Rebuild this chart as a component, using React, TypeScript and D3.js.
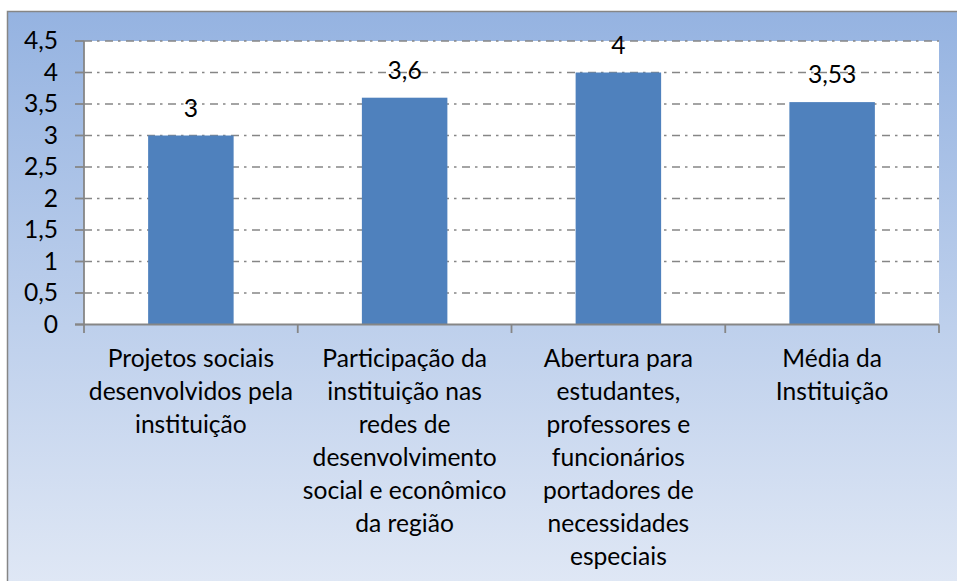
import React from "react";
import * as d3 from "d3";

const categories: string[][] = [
  ["Projetos sociais", "desenvolvidos pela", "instituição"],
  ["Participação da", "instituição nas", "redes de", "desenvolvimento", "social e econômico", "da região"],
  ["Abertura para", "estudantes,", "professores e", "funcionários", "portadores de", "necessidades", "especiais"],
  ["Média da", "Instituição"],
];
const values: number[] = [3, 3.6, 4, 3.53];
const valueLabels: string[] = ["3", "3,6", "4", "3,53"];
const yTicks: number[] = [0, 0.5, 1, 1.5, 2, 2.5, 3, 3.5, 4, 4.5];
const yTickLabels: string[] = ["0", "0,5", "1", "1,5", "2", "2,5", "3", "3,5", "4", "4,5"];

const W = 957;
const H = 581;
const FONT = "Lato, 'Open Sans', sans-serif";
const FS = 24.6;
const GRAY = "#868686";

export default function App() {
  const left = 84;
  const right = 939;
  const top = 41;
  const bottom = 324.5;
  const ids = categories.map((_, i) => String(i));
  const x = d3.scaleBand<string>().domain(ids).range([left, right]).paddingInner(0.6).paddingOuter(0.3);
  const y = d3.scaleLinear().domain([0, 4.5]).range([bottom, top]);
  const step = x.step();
  const boundaries = d3.range(categories.length + 1).map((i) => left + i * step);

  return (
    <svg width={W} height={H} style={{ position: "absolute", left: 0, top: 0 }} fontFamily={FONT}>
      <defs>
        <linearGradient id="bg" x1="0" y1="0" x2="0" y2="1">
          <stop offset="0%" stopColor="#95B3E1" />
          <stop offset="100%" stopColor="#E3EAF6" />
        </linearGradient>
      </defs>
      <rect x={0} y={0} width={W} height={H} fill="#ffffff" />
      <rect x={7.5} y={11.5} width={W + 20} height={H + 20} fill="url(#bg)" stroke={GRAY} strokeWidth={1.5} />
      <rect x={left} y={top} width={right - left} height={bottom - top} fill="#ffffff" />
      {yTicks.filter((t) => t > 0).map((t) => (
        <line key={"g" + t} x1={left} x2={right} y1={y(t)} y2={y(t)} stroke={GRAY} strokeWidth={1.5} strokeDasharray="8,5,2.5,5.5" />
      ))}
      {values.map((v, i) => (
        <rect key={"b" + i} x={x(ids[i])} y={y(v)} width={x.bandwidth()} height={y(0) - y(v)} fill="#4F81BD" />
      ))}
      <line x1={left} x2={left} y1={top} y2={bottom + 0.5} stroke={GRAY} strokeWidth={1.8} />
      {yTicks.map((t) => (
        <line key={"yt" + t} x1={75} x2={left} y1={y(t)} y2={y(t)} stroke={GRAY} strokeWidth={1.8} />
      ))}
      <line x1={75} x2={right} y1={y(0)} y2={y(0)} stroke={GRAY} strokeWidth={1.8} />
      {boundaries.map((b, i) => (
        <line key={"xt" + i} x1={b} x2={b} y1={y(0)} y2={333} stroke={GRAY} strokeWidth={1.8} />
      ))}
      {yTicks.map((t, i) => (
        <text key={"yl" + t} x={58} y={y(t)} dy="0.33em" textAnchor="end" fontSize={FS} fill="#000">
          {yTickLabels[i]}
        </text>
      ))}
      {values.map((v, i) => (
        <text key={"vl" + i} x={(x(ids[i]) as number) + x.bandwidth() / 2} y={y(v) - 19} textAnchor="middle" fontSize={FS} fill="#000">
          {valueLabels[i]}
        </text>
      ))}
      {categories.map((lines, i) => (
        <text key={"c" + i} textAnchor="middle" fontSize={FS} fill="#000">
          {lines.map((ln, j) => (
            <tspan key={j} x={(x(ids[i]) as number) + x.bandwidth() / 2} y={366.5 + j * 33}>
              {ln}
            </tspan>
          ))}
        </text>
      ))}
    </svg>
  );
}
